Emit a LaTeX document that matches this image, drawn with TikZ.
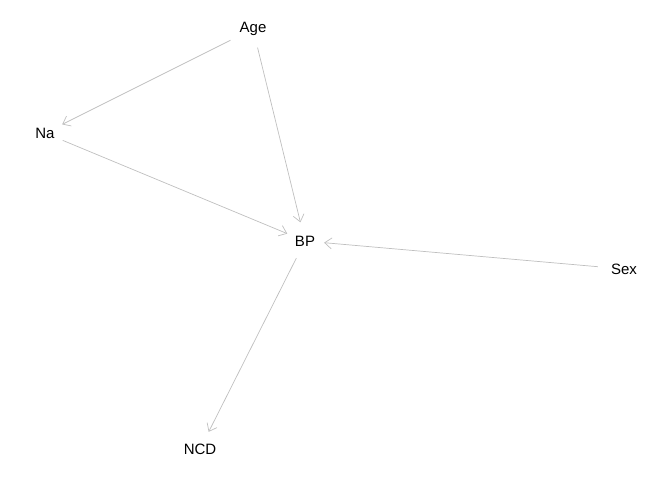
\documentclass[tikz,border=0pt]{standalone}
\usepackage{fontspec}
\setmainfont{Liberation Sans}
\usetikzlibrary{arrows.meta,positioning}
\tikzset{
  var/.style={circle, inner sep=0pt, minimum size=38pt, font=\fontsize{15}{18}\selectfont},
  edge/.style={draw=gray!50, line width=0.7pt, -{Straight Barb[length=7pt,width=11pt]}}
}

\begin{document}
\begin{tikzpicture}[x=1pt,y=-1pt]
\useasboundingbox (0,0) rectangle (672,480);
\node[var] (age) at (253,29) {Age};
\node[var] (na)  at (45,133) {Na};
\node[var] (bp)  at (305,241) {BP};
\node[var] (sex) at (624,269) {Sex};
\node[var] (ncd) at (200,449) {NCD};
\draw[edge, shorten <=6pt] (age) -- (na);
\draw[edge] (age) -- (bp);
\draw[edge] (na) -- (bp);
\draw[edge, shorten <=7pt] (sex) -- (bp);
\draw[edge] (bp) -- (ncd);
\end{tikzpicture}
\end{document}
